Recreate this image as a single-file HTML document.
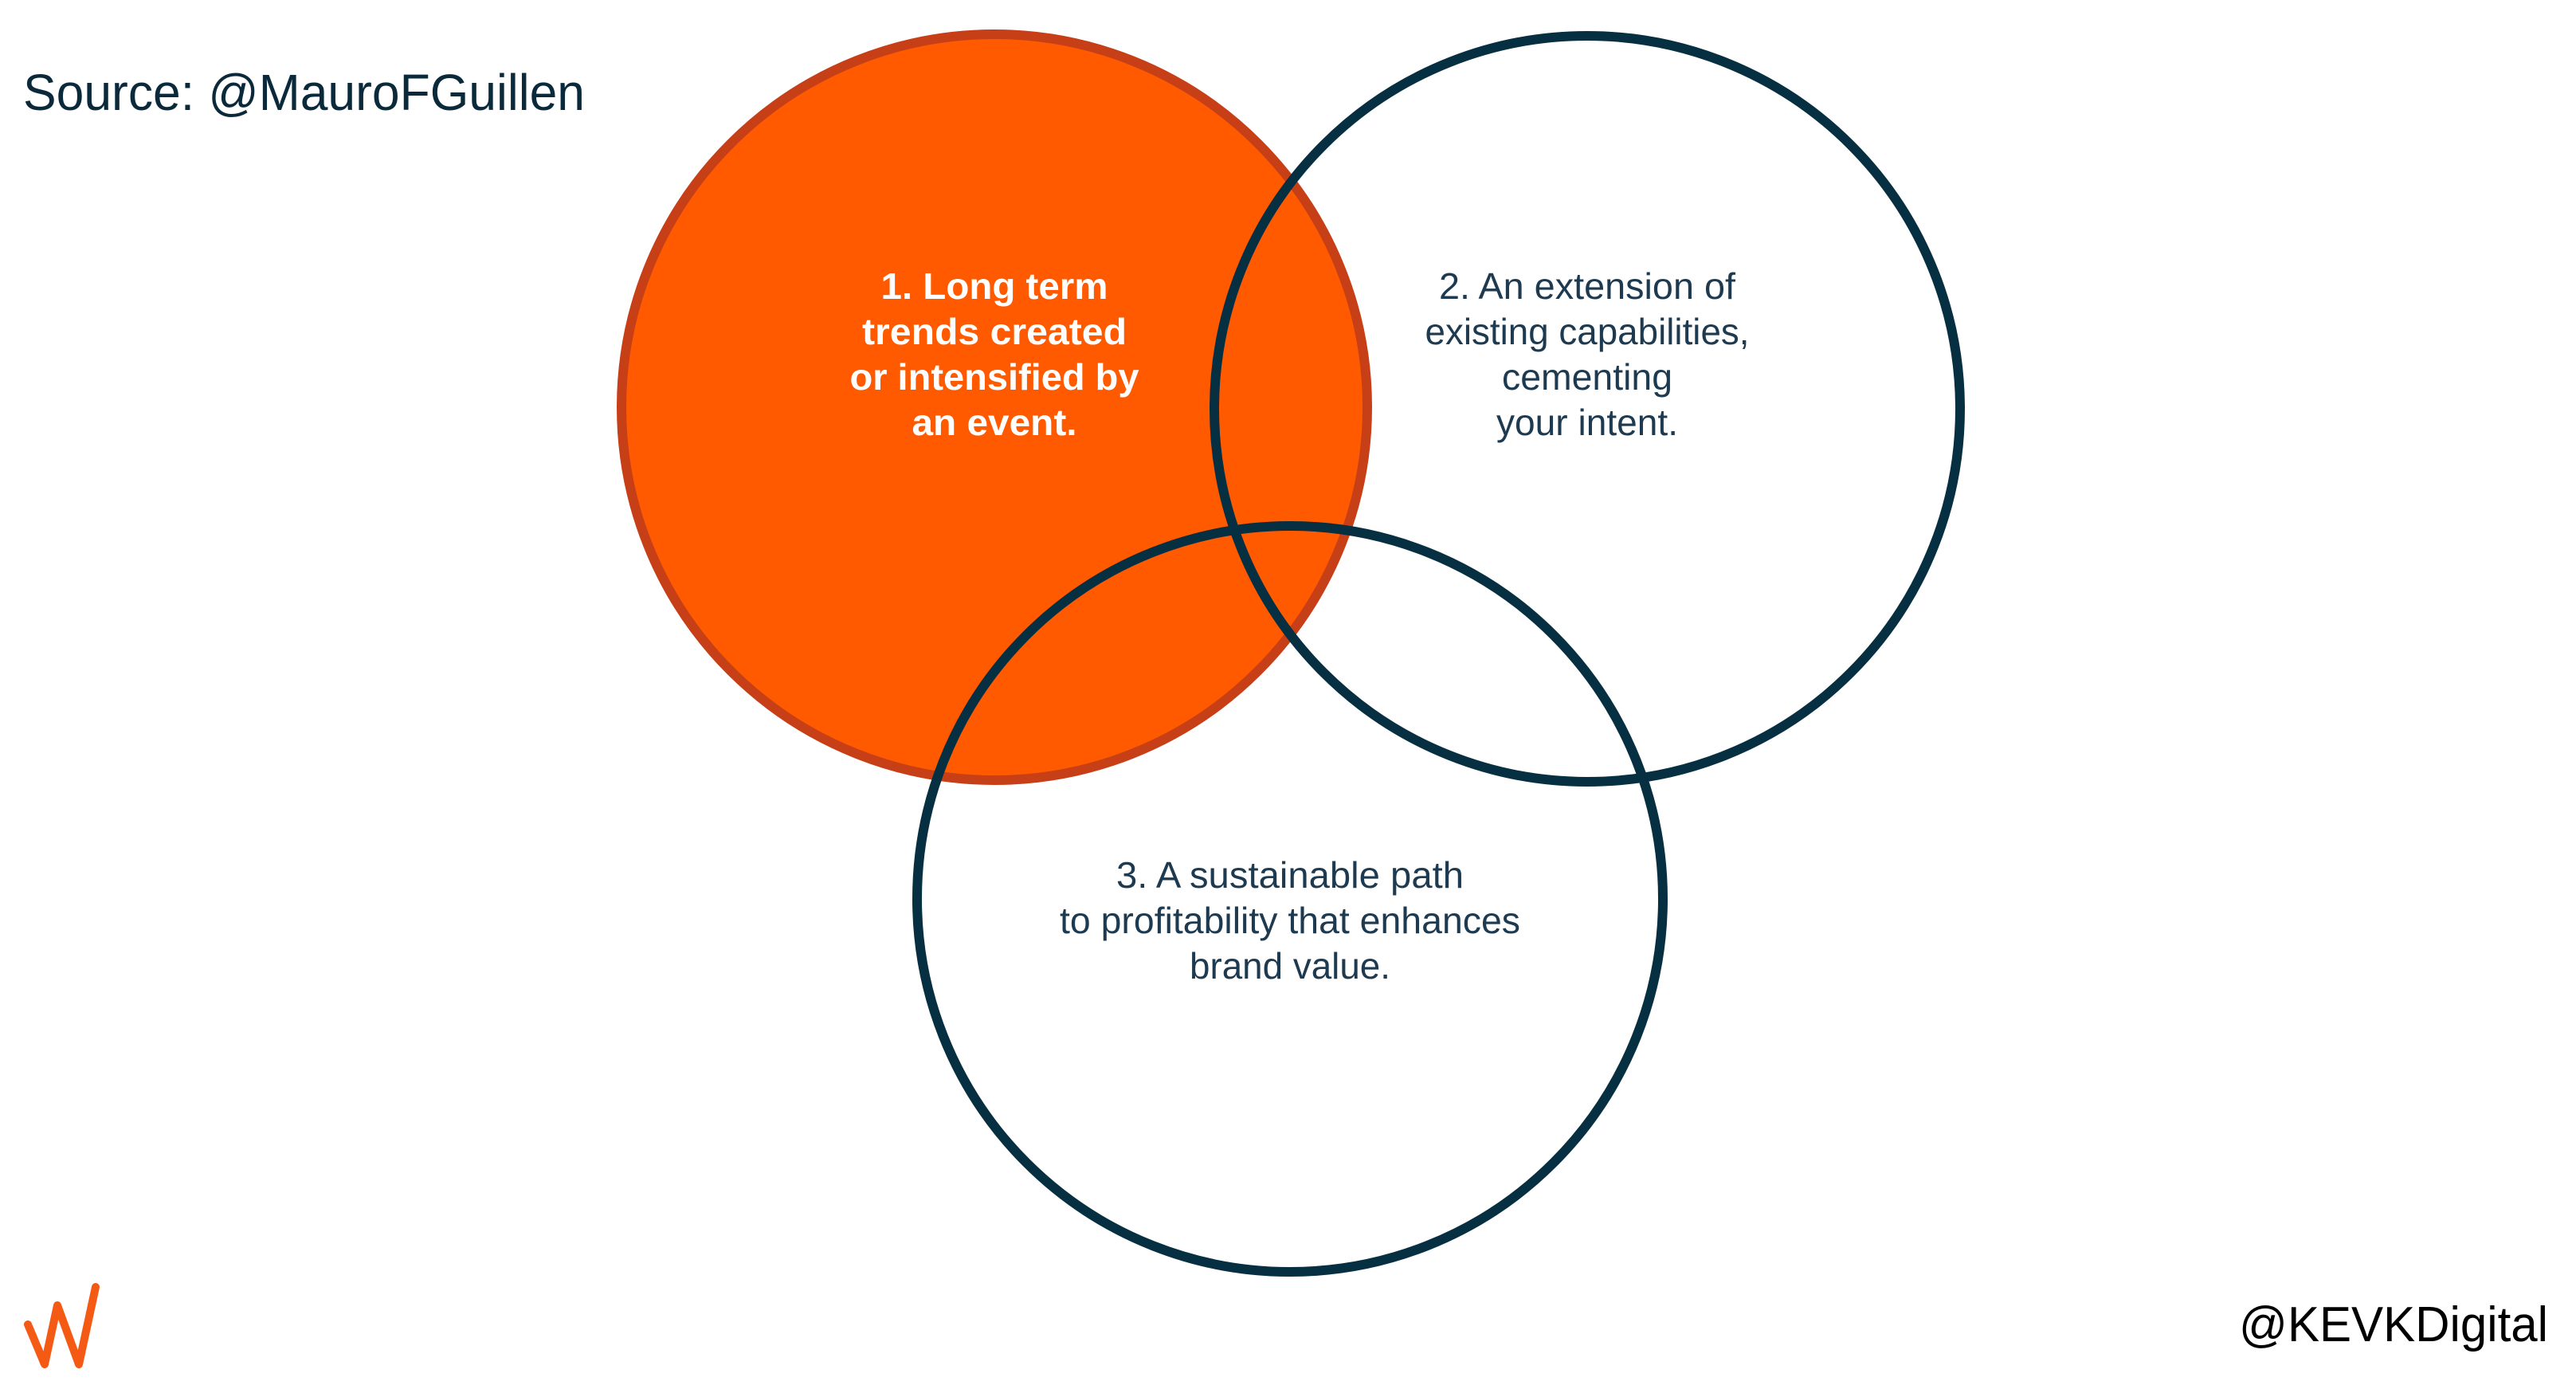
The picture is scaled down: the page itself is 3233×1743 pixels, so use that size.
<!DOCTYPE html>
<html><head><meta charset="utf-8"><style>html,body{margin:0;padding:0;background:#fff}svg{display:block}</style></head>
<body>
<svg width="3233" height="1743" viewBox="0 0 3233 1743" xmlns="http://www.w3.org/2000/svg" font-family="Liberation Sans, sans-serif">
<rect width="3233" height="1743" fill="#fff"/>
<circle cx="1248" cy="511" r="468" fill="#ff5a00" stroke="#c73f17" stroke-width="12"/>
<circle cx="1992" cy="513" r="468" fill="none" stroke="#072f42" stroke-width="12"/>
<circle cx="1619" cy="1128" r="468" fill="none" stroke="#072f42" stroke-width="12"/>
<text x="29" y="138" font-size="64" fill="#0a2a3b" textLength="705" lengthAdjust="spacingAndGlyphs">Source: @MauroFGuillen</text>
<g font-size="46" font-weight="bold" fill="#fff" text-anchor="middle">
<text x="1248" y="375" textLength="285" lengthAdjust="spacingAndGlyphs">1. Long term</text>
<text x="1248" y="432" textLength="332" lengthAdjust="spacingAndGlyphs">trends created</text>
<text x="1248" y="489" textLength="363" lengthAdjust="spacingAndGlyphs">or intensified by</text>
<text x="1248" y="546" textLength="207" lengthAdjust="spacingAndGlyphs">an event.</text>
</g>
<g font-size="46" fill="#1d3a50" text-anchor="middle">
<text x="1992" y="375" textLength="372" lengthAdjust="spacingAndGlyphs">2. An extension of</text>
<text x="1992" y="432" textLength="407" lengthAdjust="spacingAndGlyphs">existing capabilities,</text>
<text x="1992" y="489" textLength="214" lengthAdjust="spacingAndGlyphs">cementing</text>
<text x="1992" y="546" textLength="228" lengthAdjust="spacingAndGlyphs">your intent.</text>
<text x="1619" y="1114" textLength="436" lengthAdjust="spacingAndGlyphs">3. A sustainable path</text>
<text x="1619" y="1171" textLength="578" lengthAdjust="spacingAndGlyphs">to profitability that enhances</text>
<text x="1619" y="1228" textLength="252" lengthAdjust="spacingAndGlyphs">brand value.</text>
</g>
<text x="3198" y="1683" font-size="62" fill="#000" text-anchor="end" textLength="388" lengthAdjust="spacingAndGlyphs">@KEVKDigital</text>
<polyline points="35,1662 56,1712 72,1638 99,1712 120,1615" fill="none" stroke="#f45a14" stroke-width="10" stroke-linejoin="round" stroke-linecap="round"/>
</svg>
</body></html>
